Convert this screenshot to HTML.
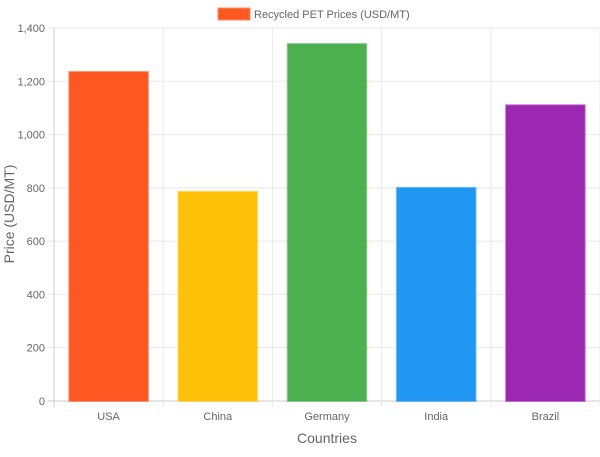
<!DOCTYPE html>
<html><head><meta charset="utf-8"><style>
body{margin:0;background:#fff;font-family:"Liberation Sans",sans-serif}
svg text{font-family:"Liberation Sans",sans-serif}
</style></head><body>
<svg width="600" height="452" id="chart">
<g>
<rect x="218" y="8" width="32" height="12" fill="#ff5722" stroke="#ff8a65" stroke-width="1"/>
<text x="254" y="18" font-size="11" fill="#666">Recycled PET Prices (USD/MT)</text>
</g>
<text transform="translate(14,214) rotate(-90)" text-anchor="middle" font-size="14" fill="#666">Price (USD/MT)</text>
<text x="327" y="443" text-anchor="middle" font-size="14" fill="#666">Countries</text>
</svg>
<script>
const categories=["USA","China","Germany","India","Brazil"];
const prices=[1235,785,1340,800,1110];
const yTicks=[0,200,400,600,800,1000,1200,1400];
const colors=["#ff5722","#ffc107","#4caf50","#2196f3","#9c27b0"];
const NS="http://www.w3.org/2000/svg";
const svg=document.getElementById('chart');
const L=54,R=600,T=28,B=401,yMax=1400;
const y=v=>B-(B-T)*v/yMax;
const bw=(R-L)/categories.length;
const x=i=>L+bw*i;
function mk(t,a){const e=document.createElementNS(NS,t);for(const k in a)e.setAttribute(k,a[k]);svg.appendChild(e);return e;}
yTicks.forEach(v=>{
 const g=mk('line',{x1:48,x2:R,y1:y(v),y2:y(v),stroke:v===0?'#ccc':'#e8e8e8','stroke-width':1});
 
 
 const t=mk('text',{x:45,y:y(v)+4,'text-anchor':'end','font-size':11,fill:'#666'});
 t.textContent=v.toLocaleString('en-US');
 
 
});
for(let i=0;i<=categories.length;i++){
 const g=mk('line',{x1:x(i),x2:x(i),y1:T,y2:B+6,stroke:i===0?'#ccc':'#e8e8e8','stroke-width':1});
 
 
}
categories.forEach((c,i)=>{
 const w=bw*0.72, bx=x(i)+(bw-w)/2;
 const r=mk('rect',{x:bx,y:y(prices[i]),width:w,height:B-y(prices[i]),fill:colors[i],stroke:colors[i],'stroke-opacity':0.6,'stroke-width':2});
 
 
 const t=mk('text',{x:x(i)+bw/2,y:B+19,'text-anchor':'middle','font-size':11,fill:'#666'});
 t.textContent=c;
 
 
});
</script>
</body></html>
